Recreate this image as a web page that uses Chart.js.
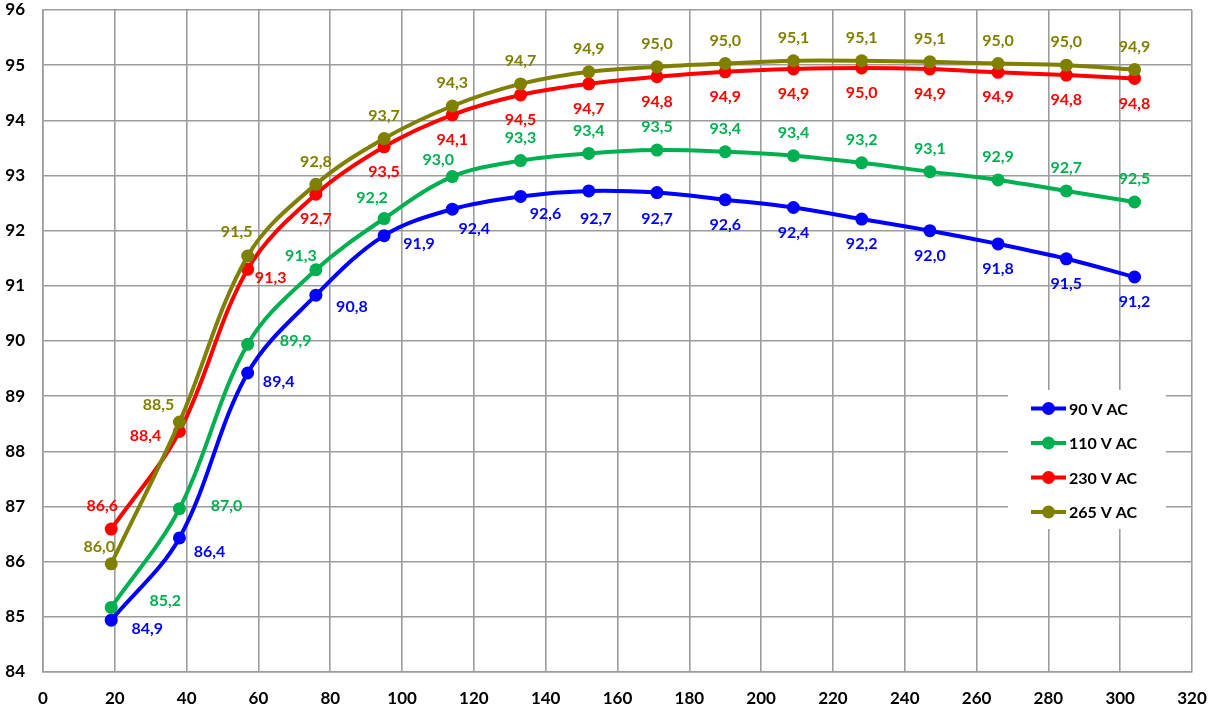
<!DOCTYPE html>
<html>
<head>
<meta charset="utf-8">
<title>Efficiency vs load</title>
<script src="https://cdn.jsdelivr.net/npm/chart.js@4.4.1/dist/chart.umd.min.js"></script>
<style>
  html, body { margin: 0; padding: 0; background: #fff; }
  #chart { display: block; }
</style>
</head>
<body>
<canvas id="chart" width="1208" height="708"></canvas>
<script>
// x positions of the measurements
const xValues = [19, 38, 57, 76, 95, 114, 133, 152, 171, 190, 209, 228, 247, 266, 285, 304];

// efficiency (%) per input voltage
const eff90  = [84.94, 86.43, 89.42, 90.83, 91.91, 92.39, 92.62, 92.72, 92.69, 92.56, 92.42, 92.21, 92.00, 91.76, 91.49, 91.16];
const eff110 = [85.17, 86.96, 89.94, 91.29, 92.22, 92.98, 93.27, 93.40, 93.46, 93.43, 93.36, 93.23, 93.07, 92.92, 92.72, 92.52];
const eff230 = [86.59, 88.36, 91.30, 92.66, 93.52, 94.10, 94.46, 94.66, 94.79, 94.88, 94.93, 94.95, 94.93, 94.87, 94.82, 94.76];
const eff265 = [85.96, 88.53, 91.54, 92.84, 93.67, 94.26, 94.66, 94.88, 94.97, 95.03, 95.08, 95.08, 95.06, 95.03, 95.00, 94.92];

const seriesNames = ['90 V AC', '110 V AC', '230 V AC', '265 V AC'];
const seriesColors = ['#0000ff', '#00b050', '#ff0000', '#808000'];

// where each value label sits, relative to its point (px)
const below = [0, 25], above = [0, -23];
const labelOffsets = [
    [[36, 9], [30, 14], [31, 9], [36, 12], [35, 8], [22, 20], [25, 17], [7, 28],
     [0, 26], below, below, below, below, below, below, below],
    [[54, -7], [47, -3], [48, -3], [-15, -14], [-12, -21], [-14, -17], above, above,
     above, above, above, above, above, above, above, above],
    [[-9, -23], [-34, 4], [23, 9], below, below, below, below, below,
     below, below, below, below, below, below, below, below],
    [[-12, -17], [-21, -17], [-11, -24], [0, -22], above, above, above, above,
     above, above, above, above, above, above, above, above]
];

const FONT = 'Lato';
const gridColor = '#9c9c9c';

function fmt(v) {
    return v.toFixed(1).replace('.', ',');
}

function makeSeries(values) {
    return values.map((v, i) => ({ x: xValues[i], y: v }));
}

const allSeries = [eff90, eff110, eff230, eff265];

const datasets = allSeries.map((vals, i) => ({
    label: seriesNames[i],
    data: makeSeries(vals),
    borderColor: seriesColors[i],
    backgroundColor: seriesColors[i],
    pointBackgroundColor: seriesColors[i],
    pointBorderColor: seriesColors[i],
    borderWidth: 4,
    pointRadius: 6.5,
    pointBorderWidth: 0,
    tension: 0.35,
    order: 4 - i
}));

const whiteBackground = {
    id: 'whiteBackground',
    beforeDraw(chart) {
        const ctx = chart.ctx;
        ctx.save();
        ctx.fillStyle = '#fff';
        ctx.fillRect(0, 0, chart.width, chart.height);
        ctx.restore();
    }
};

const pointLabels = {
    id: 'pointLabels',
    afterDatasetsDraw(chart) {
        const ctx = chart.ctx;
        ctx.save();
        ctx.font = 'bold 16px ' + FONT;
        ctx.textAlign = 'center';
        ctx.textBaseline = 'middle';
        chart.data.datasets.forEach((ds, i) => {
            const meta = chart.getDatasetMeta(i);
            meta.data.forEach((pt, j) => {
                const off = labelOffsets[i][j];
                ctx.fillStyle = ds.borderColor;
                ctx.fillText(fmt(ds.data[j].y), pt.x + off[0], pt.y + off[1]);
            });
        });
        ctx.restore();
    }
};

// legend box drawn inside the plot, lower right
const boxLegend = {
    id: 'boxLegend',
    afterDraw(chart) {
        const ctx = chart.ctx;
        const left = 1008, top = 390, w = 158, h = 139;
        ctx.save();
        ctx.fillStyle = '#fff';
        ctx.fillRect(left, top, w, h);
        ctx.font = 'bold 16px ' + FONT;
        ctx.textAlign = 'left';
        ctx.textBaseline = 'middle';
        chart.data.datasets.forEach((ds, i) => {
            const y = 408.5 + i * 34.5;
            ctx.strokeStyle = ds.borderColor;
            ctx.lineWidth = 4;
            ctx.beginPath();
            ctx.moveTo(1031, y);
            ctx.lineTo(1066, y);
            ctx.stroke();
            ctx.fillStyle = ds.borderColor;
            ctx.beginPath();
            ctx.arc(1048.5, y, 6.5, 0, Math.PI * 2);
            ctx.fill();
            ctx.fillStyle = '#000';
            ctx.fillText(ds.label, 1069, y + 1);
        });
        ctx.restore();
    }
};

const tickFont = { family: FONT, size: 17, weight: 'bold' };

new Chart('chart', {
    type: 'line',
    data: { datasets: datasets },
    options: {
        responsive: false,
        devicePixelRatio: 1,
        animation: false,
        layout: { padding: { top: 10, right: 16, left: 0, bottom: 0 } },
        plugins: {
            legend: { display: false },
            tooltip: { enabled: false }
        },
        scales: {
            x: {
                type: 'linear',
                min: 0,
                max: 320,
                ticks: { stepSize: 20, color: '#000', font: tickFont, padding: 16, maxRotation: 0 },
                grid: { color: gridColor, lineWidth: 1.6, drawTicks: false },
                border: { color: gridColor, width: 1.6 },
                afterFit: (scale) => {
                    scale.height = 36;
                    scale.paddingLeft = 0;
                    scale.paddingRight = 0;
                }
            },
            y: {
                min: 84,
                max: 96,
                ticks: { stepSize: 1, color: '#000', font: tickFont, padding: 18 },
                grid: { color: gridColor, lineWidth: 1.6, drawTicks: false },
                border: { color: gridColor, width: 1.6 },
                afterFit: (scale) => {
                    scale.width = 43;
                    scale.paddingTop = 0;
                    scale.paddingBottom = 0;
                }
            }
        }
    },
    plugins: [whiteBackground, pointLabels, boxLegend]
});
</script>
</body>
</html>
